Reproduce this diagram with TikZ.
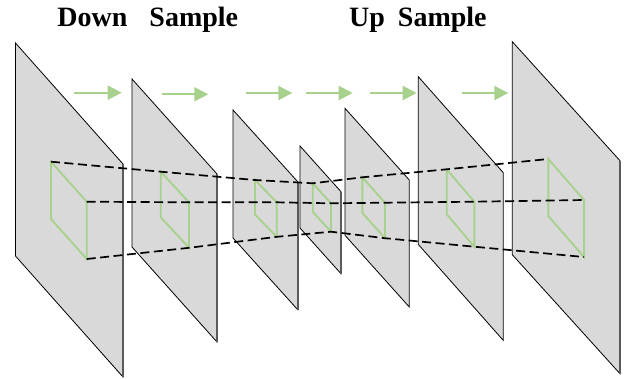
\documentclass[tikz,border=0pt]{standalone}
\usepackage{fontspec}
\setmainfont{Liberation Serif}
\usetikzlibrary{arrows.meta}
\definecolor{planegray}{HTML}{D9D9D9}
\definecolor{edgegray}{HTML}{5A5A5A}
\definecolor{featgreen}{HTML}{A9D18E}
\tikzset{
  plane/.style={fill=planegray,draw=black,line width=0.8bp,line join=miter},
  rimedge/.style={draw=edgegray,line width=1.6bp},
  window/.style={draw=featgreen,line width=1.9bp},
  link/.style={draw=black,line width=1.7bp,dash pattern=on 9bp off 4.5bp},
  flow/.style={draw=featgreen,line width=2.2bp,-{Triangle[length=14bp,width=14bp]}},
  heading/.style={font=\fontsize{28bp}{30bp}\selectfont\bfseries,inner sep=0pt,anchor=base west}
}
\begin{document}
\begin{tikzpicture}[x=1bp,y=-1bp]
\useasboundingbox (0,0) rectangle (625,378);
% feature planes: left x, top-left y, right x, top-right y, height
\foreach \n/\xl/\yl/\xr/\yr/\h in {
  1/15.5/43/123/164/213,
  2/132/79/217/174/168,
  3/233/110/297.7/181.7/128,
  4/300/146/341/191.7/82,
  5/345/108.3/409.3/180/127,
  6/418.3/76.7/503.3/172.7/167.7,
  7/512.3/41.7/620/160.7/213}{
  \path[plane] (\xl,\yl) coordinate (p\n a) -- (\xr,\yr) coordinate (p\n b)
    -- (\xr,\yr+\h) coordinate (p\n c) -- (\xl,\yl+\h) coordinate (p\n d) -- cycle;
  \draw[rimedge] (p\n b) -- (p\n c);
}
% receptive windows on each plane
\foreach \n/\xl/\yl/\xr/\yr/\h in {
  1/51/161.7/86.7/201.7/57.3,
  2/160.7/171.7/189/202.3/45.5,
  3/255/180/276.7/202.3/34.5,
  4/312.7/183.3/331/203.3/28.4,
  5/362.3/177.3/385/202.7/35.5,
  6/446.7/169.3/474.3/201.7/45,
  7/548.3/159/584/200/57}{
  \path[window] (\xl,\yl) coordinate (g\n a) -- (\xr,\yr) coordinate (g\n b)
    -- (\xr,\yr+\h) coordinate (g\n c) -- (\xl,\yl+\h) coordinate (g\n d) -- cycle;
}
% dashed links through the window corners
\draw[link] (g1a) -- (g2a) -- (g3a) -- (g4a) -- (g5a) -- (g6a) -- (g7a);
\draw[link] (g1b) -- (g2b) -- (g3b) -- (g4b) -- (g5b) -- (g6b) -- (g7b);
\draw[link] (g1c) -- (g2c) -- (g3c) -- (g4c) -- (g5c) -- (g6c) -- (g7c);
% flow arrows
\foreach \i/\xs/\xe/\y in {1/74/121.7/92.7, 2/161.7/208.3/94.3, 3/245.7/292.3/93,
  4/306/352.7/93, 5/370/416.7/93, 6/461.7/508.3/93}{
  \coordinate (s\i) at (\xs,\y);
  \coordinate (e\i) at (\xe,\y);
  \draw[flow] (s\i) -- (e\i);
}
% headings
\node[heading] (down) at (57.3,26.7) {Down\hspace{22bp}Sample};
\node[heading] (up) at (349,26.7) {Up\hspace{13bp}Sample};
\end{tikzpicture}
\end{document}
